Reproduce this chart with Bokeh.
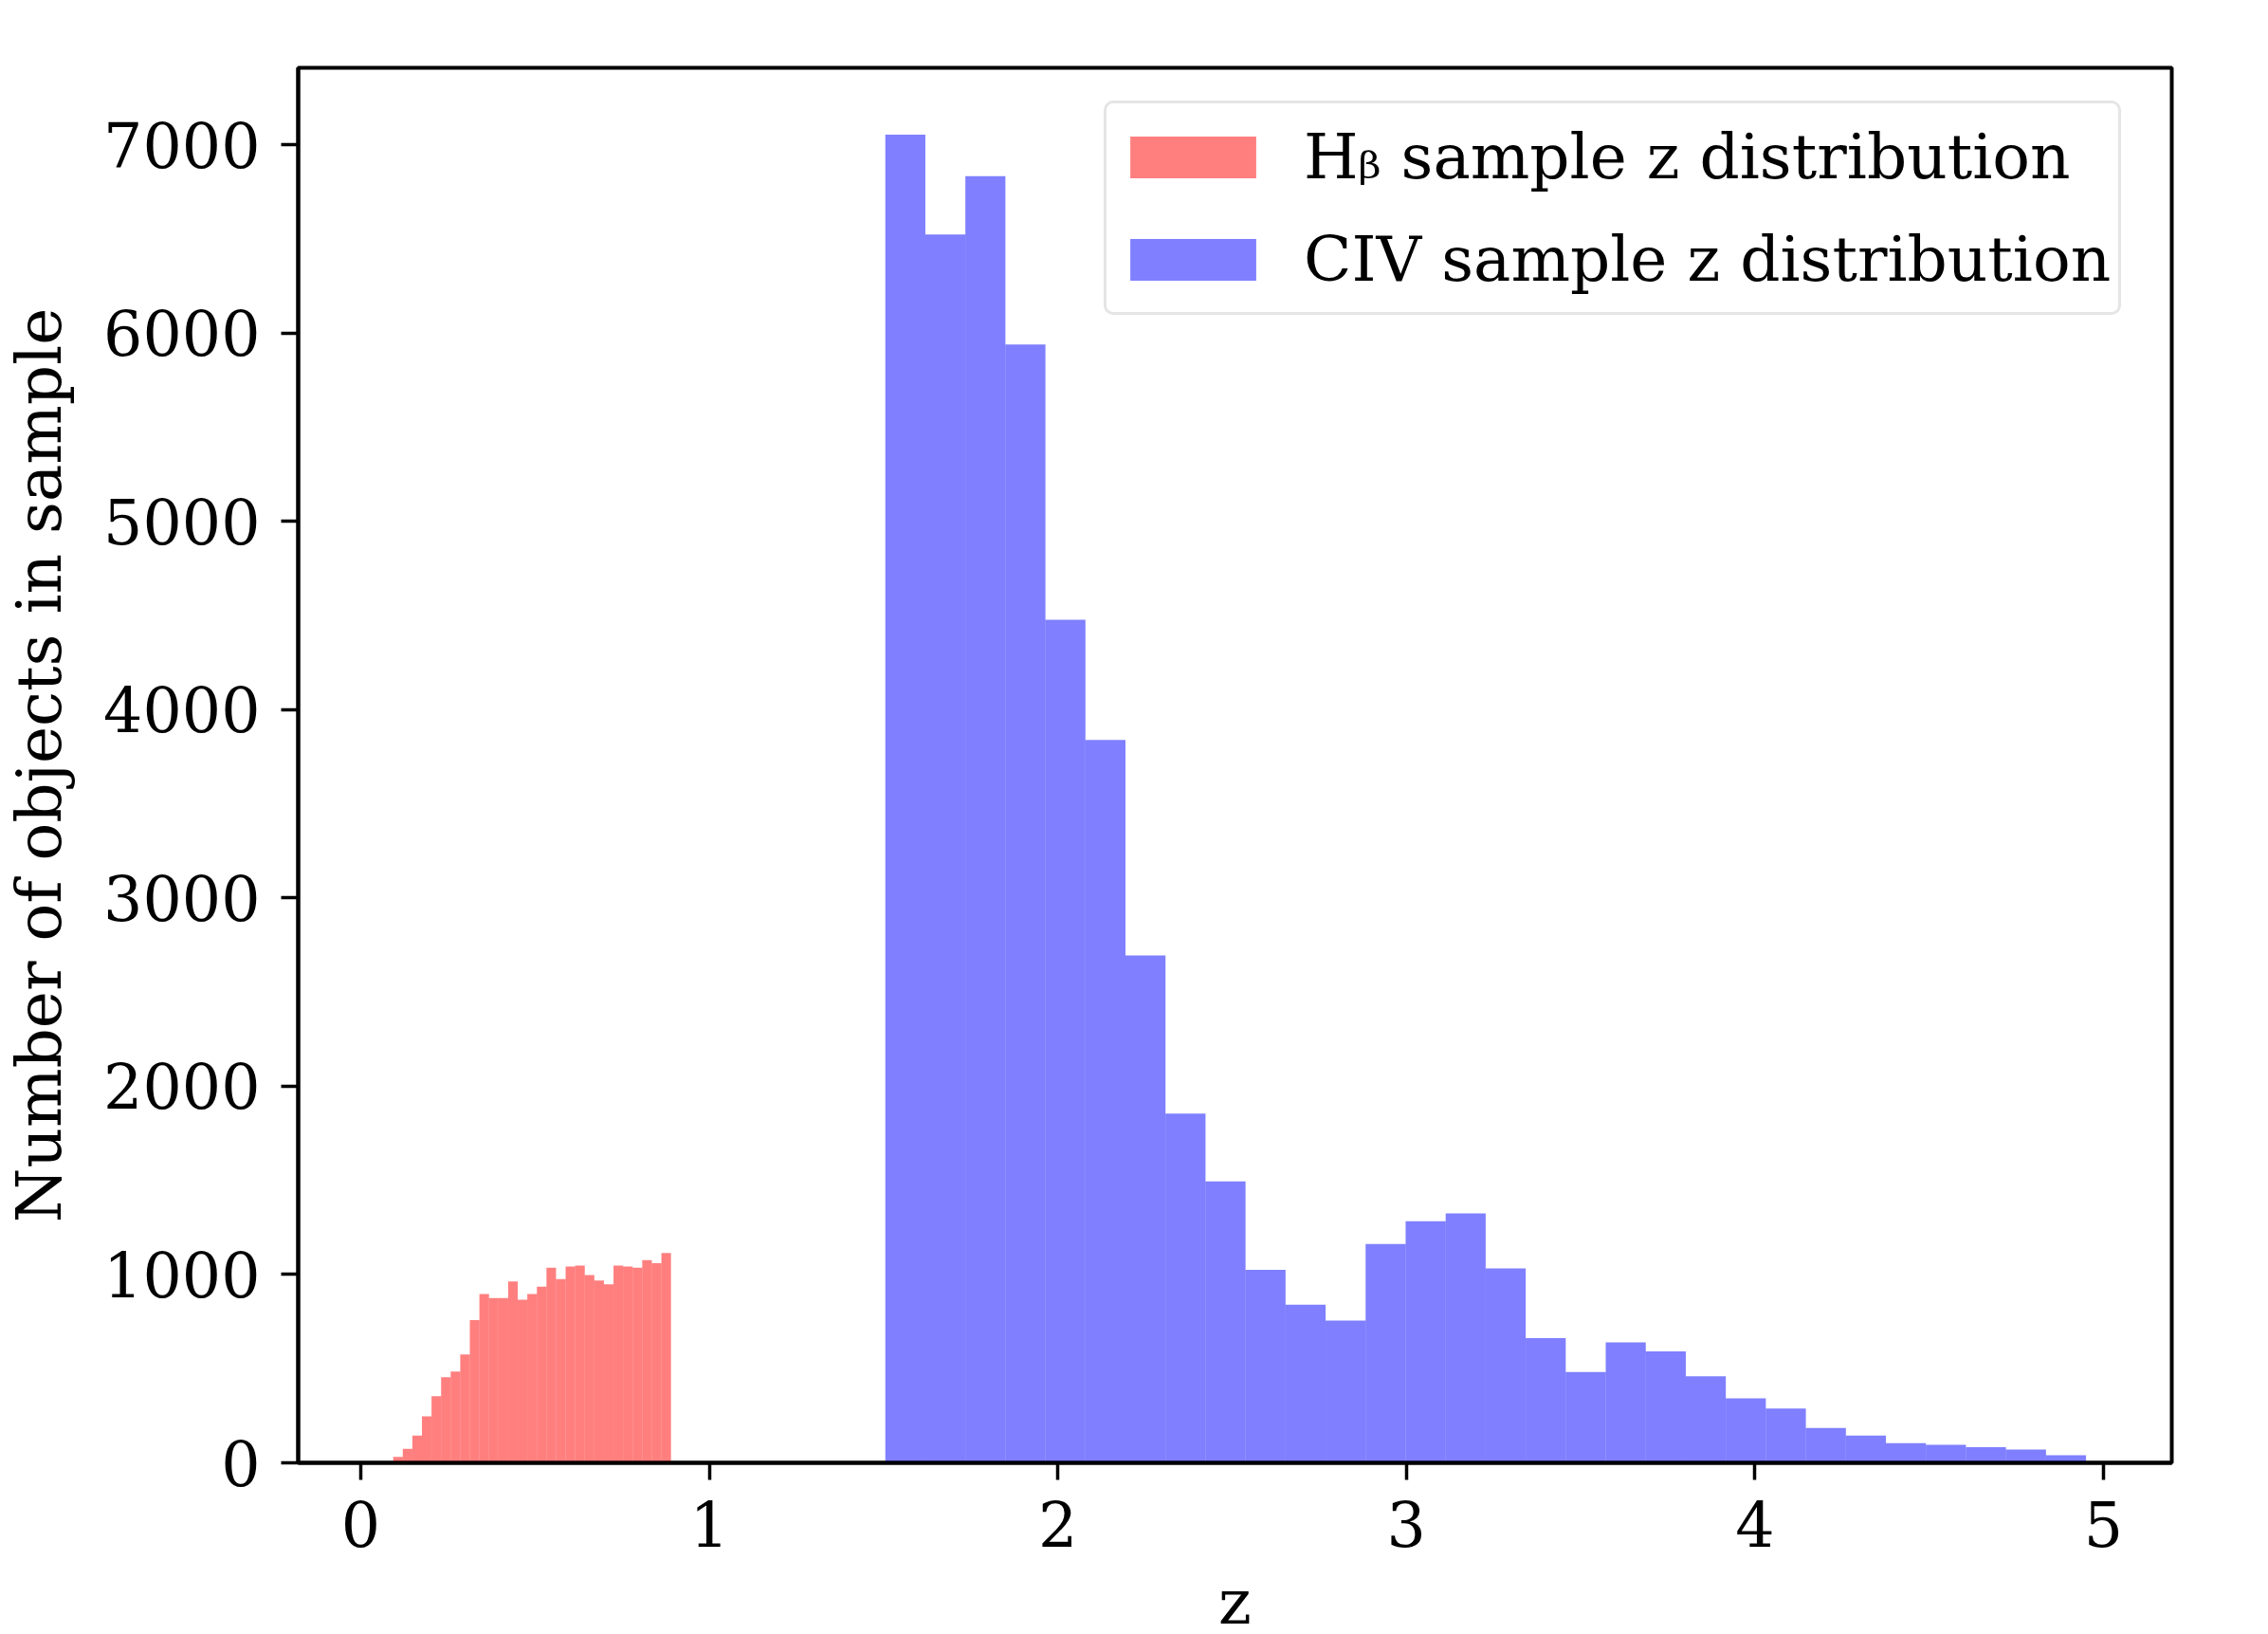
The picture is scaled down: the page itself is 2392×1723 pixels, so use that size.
import numpy as np
from bokeh.plotting import figure
from bokeh.models import Range1d, ColumnDataSource, Legend, LegendItem, FixedTicker
from bokeh.embed import file_html
from bokeh.resources import INLINE

# ---------------- data ----------------
hb_z_min = 0.093
hb_z_max = 0.890
hb_counts = [32, 74, 145, 247, 354, 455, 485, 575, 758, 897,
             875, 875, 964, 867, 897, 936, 1037, 976, 1043, 1048,
             998, 968, 948, 1048, 1043, 1037, 1077, 1060, 1115]

civ_z_min = 1.505
civ_z_max = 4.950
civ_counts = [7055, 6525, 6835, 5940, 4478, 3840, 2695, 1855, 1495, 1025,
              840, 755, 1163, 1283, 1325, 1033, 663, 482, 640, 592,
              460, 342, 288, 185, 145, 104, 96, 83, 70, 40]

x_ticks = [0, 1, 2, 3, 4, 5]
y_ticks = [0, 1000, 2000, 3000, 4000, 5000, 6000, 7000]

hb_label = "H\u1d66 sample z distribution"
civ_label = "CIV sample z distribution"
x_label = "z"
y_label = "Number of objects in sample"

# ---------------- build histogram sources ----------------
hb_edges = np.linspace(hb_z_min, hb_z_max, len(hb_counts) + 1)
civ_edges = np.linspace(civ_z_min, civ_z_max, len(civ_counts) + 1)

hb_src = ColumnDataSource(dict(left=hb_edges[:-1], right=hb_edges[1:],
                               top=hb_counts, bottom=[0] * len(hb_counts)))
civ_src = ColumnDataSource(dict(left=civ_edges[:-1], right=civ_edges[1:],
                                top=civ_counts, bottom=[0] * len(civ_counts)))

FONT = "DejaVu Serif"

p = figure(frame_width=1976, frame_height=1471,
           x_range=Range1d(-0.1796, 5.196), y_range=Range1d(0, 7410),
           output_backend="svg", toolbar_location=None,
           min_border_left=313, min_border_right=87,
           min_border_top=71, min_border_bottom=165,
           background_fill_color="white", border_fill_color="white")

r_hb = p.quad(left="left", right="right", top="top", bottom="bottom", source=hb_src,
              fill_color="red", fill_alpha=0.5, line_color=None)
r_civ = p.quad(left="left", right="right", top="top", bottom="bottom", source=civ_src,
               fill_color="blue", fill_alpha=0.5, line_color=None)

p.grid.visible = False
p.outline_line_color = "black"
p.outline_line_width = 4
p.outline_line_alpha = 1.0

for ax in (p.xaxis[0], p.yaxis[0]):
    ax.axis_line_color = "black"
    ax.axis_line_width = 4
    ax.major_tick_line_color = "black"
    ax.major_tick_line_width = 3.5
    ax.major_tick_out = 18
    ax.major_tick_in = 0
    ax.minor_tick_line_color = None
    ax.major_label_text_font = FONT
    ax.major_label_text_font_size = "65px"
    ax.major_label_text_color = "black"
    ax.axis_label_text_font = FONT
    ax.axis_label_text_font_size = "66px"
    ax.axis_label_text_font_style = "normal"
    ax.axis_label_text_color = "black"

p.xaxis[0].ticker = FixedTicker(ticks=x_ticks)
p.yaxis[0].ticker = FixedTicker(ticks=y_ticks)
p.xaxis[0].axis_label = x_label
p.yaxis[0].axis_label = y_label
p.xaxis[0].major_label_standoff = 22
p.yaxis[0].major_label_standoff = 22
p.xaxis[0].axis_label_standoff = 17
p.yaxis[0].axis_label_standoff = 26

legend = Legend(items=[LegendItem(label=hb_label, renderers=[r_hb]),
                       LegendItem(label=civ_label, renderers=[r_civ])],
                location=(850, 1210), orientation="vertical",
                label_text_font=FONT, label_text_font_size="66px",
                label_text_color="black",
                glyph_width=166, glyph_height=55, label_height=96,
                label_standoff=34, padding=8, spacing=12, margin=0,
                border_line_color="#cccccc", border_line_width=3,
                background_fill_color="white", background_fill_alpha=0.8)
try:
    legend.border_radius = 10
except Exception:
    pass
p.add_layout(legend)

open("out.html", "w").write(file_html(p, INLINE))
